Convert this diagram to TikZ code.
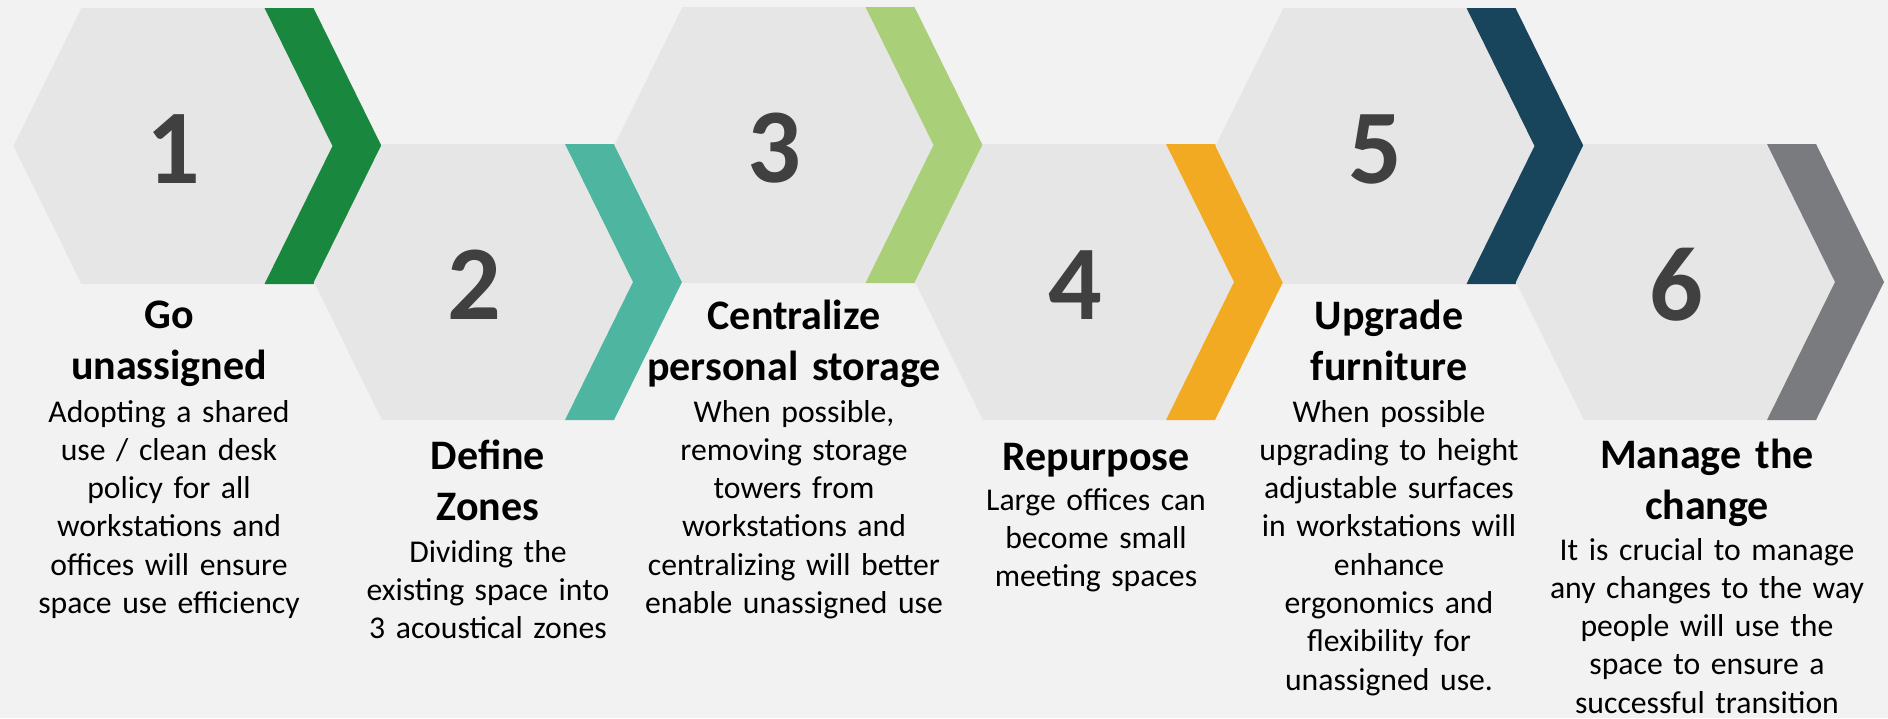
\documentclass[tikz,border=0pt]{standalone}
\usepackage{fontspec}
\setmainfont{Carlito}
\usetikzlibrary{calc}
\definecolor{pageBg}{RGB}{242,242,242}
\definecolor{hexGrey}{RGB}{230,230,230}
\definecolor{numText}{RGB}{64,64,64}
\definecolor{stepGreen}{RGB}{26,135,62}
\definecolor{stepTeal}{RGB}{78,182,160}
\definecolor{stepLime}{RGB}{169,207,120}
\definecolor{stepAmber}{RGB}{242,170,34}
\definecolor{stepNavy}{RGB}{25,69,92}
\definecolor{stepSlate}{RGB}{122,123,127}
\tikzset{
    hexbody/.style={fill=hexGrey},
    chev/.style={fill=#1},
    chev/.default=stepGreen,
    numlbl/.style={font=\bfseries\fontsize{106}{106}\selectfont, text=numText, inner sep=0pt},
    ttl/.style={font=\bfseries\fontsize{42}{51.5}\selectfont, align=center, text width=320pt,
                inner sep=0pt, anchor=base},
    desc/.style={font=\fontsize{31.7}{38.3}\selectfont, align=center, text width=320pt,
                 inner sep=0pt, anchor=base}
}

\begin{document}
\begin{tikzpicture}[x=1pt, y=-1pt]
    % Page
    \useasboundingbox (0,0) rectangle (1888,718);
    \fill[pageBg] (0,0) rectangle (1888,718);

    % Hexagons with their chevrons
    \foreach \i/\col/\cy in {1/stepGreen/146, 2/stepTeal/282, 3/stepLime/145,
                             4/stepAmber/282, 5/stepNavy/146, 6/stepSlate/282} {
        \pgfmathsetmacro{\xo}{13.5+300.5*(\i-1)}
        \fill[hexbody] (\xo,\cy) -- ++(68,-138) -- ++(183,0) -- ++(68,138)
            -- ++(-68,138) -- ++(-183,0) -- cycle;
        \fill[chev=\col] (\xo+251,\cy-138) -- ++(49,0) -- ++(68,138) -- ++(-68,138)
            -- ++(-49,0) -- ++(68,-138) -- cycle;
        \node[numlbl] (n\i) at (\xo+160,\cy+3) {\i};
    }

    % Titles and descriptions
    \foreach \i/\tx/\ty/\by/\head/\body in {
        1/169/328/422/{Go\\unassigned}/{Adopting a shared\\use / clean desk\\policy for all\\workstations and\\offices will ensure\\space use efficiency},
        2/488/469/562/{Define\\Zones}/{Dividing the\\existing space into\\3 acoustical zones},
        3/794/329/422/{Centralize\\personal storage}/{When possible,\\removing storage\\towers from\\workstations and\\centralizing will better\\enable unassigned use},
        4/1096/470/510/{Repurpose}/{Large offices can\\become small\\meeting spaces},
        5/1389/329/422/{Upgrade\\furniture}/{When possible\\upgrading to height\\adjustable surfaces\\in workstations will\\enhance\\ergonomics and\\flexibility for\\unassigned use.},
        6/1707/468/560/{Manage the\\change}/{It is crucial to manage\\any changes to the way\\people will use the\\space to ensure a\\successful transition}} {
        \node[ttl] (t\i) at (\tx,\ty) {\head};
        \node[desc] (d\i) at (\tx,\by) {\body};
    }
\end{tikzpicture}
\end{document}
